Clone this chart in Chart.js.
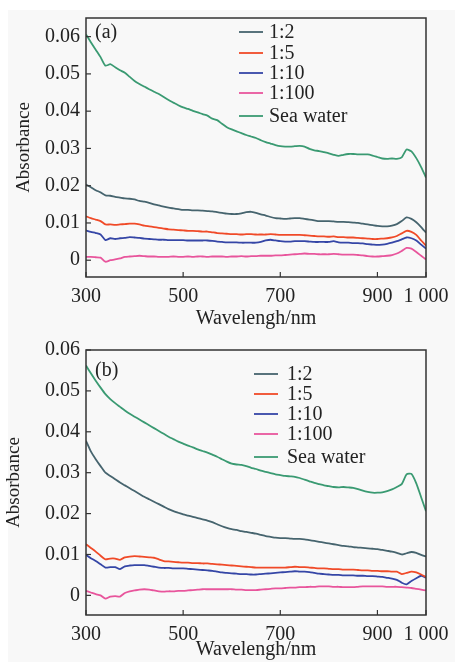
<!DOCTYPE html>
<html>
<head>
<meta charset="utf-8">
<script src="https://cdn.jsdelivr.net/npm/chart.js@4/dist/chart.umd.min.js"></script>
<style>
  html, body { margin: 0; padding: 0; background: #ffffff; }
  #wrap { position: relative; width: 458px; height: 662px; overflow: hidden; }
  #bg { position: absolute; left: 8px; top: 10px; width: 447px; height: 652px; background: #f8f8f8; }
  canvas { position: absolute; left: 0; }
  #c1 { top: 0; }
  #c2 { top: 331px; }
</style>
</head>
<body>
<div id="wrap">
  <div id="bg"></div>
  <canvas id="c1" width="458" height="331"></canvas>
  <canvas id="c2" width="458" height="331"></canvas>
</div>
<script>
// ---- Data ----
const wavelengths = [];
for (let w = 300; w <= 1000; w += 10) wavelengths.push(w);

const seriesNames = ['1:2', '1:5', '1:10', '1:100', 'Sea water'];
const xTickValues = [300, 500, 700, 900, 1000];
const xTickLabels = ['300', '500', '700', '900', '1 000'];
const yTickValues = [0, 0.01, 0.02, 0.03, 0.04, 0.05, 0.06];
const yTickLabels = ['0', '0.01', '0.02', '0.03', '0.04', '0.05', '0.06'];
const panelLabels = ['(a)', '(b)'];
const xTitle = 'Wavelengh/nm';
const yTitle = 'Absorbance';

// Panel (a)
const a_1_2 = [.0203,.0196,.0188,.0182,.0174,.0173,.0170,.0168,.0166,.0165,.0163,.0159,.0157,.0154,.0150,.0147,.0144,.0141,.0139,.0137,.0135,.0135,.0134,.0134,.0133,.0132,.0131,.0129,.0127,.0125,.0124,.0124,.0126,.0129,.0130,.0127,.0123,.0120,.0116,.0113,.0112,.0111,.0112,.0113,.0113,.0111,.0109,.0107,.0105,.0105,.0105,.0104,.0103,.0103,.0102,.0101,.0100,.0098,.0096,.0094,.0092,.0091,.0091,.0093,.0097,.0105,.0115,.0111,.0102,.0089,.0074];
const a_1_5 = [.0118,.0113,.0109,.0105,.0096,.0096,.0095,.0096,.0097,.0098,.0098,.0096,.0093,.0091,.0089,.0087,.0085,.0083,.0082,.0081,.0080,.0079,.0079,.0078,.0077,.0077,.0075,.0073,.0072,.0071,.0070,.0070,.0069,.0070,.0070,.0069,.0069,.0069,.0070,.0069,.0068,.0068,.0068,.0068,.0068,.0067,.0066,.0065,.0064,.0064,.0063,.0064,.0062,.0062,.0061,.0061,.0060,.0059,.0058,.0057,.0057,.0058,.0059,.0061,.0065,.0072,.0079,.0076,.0068,.0053,.0039];
const a_1_10 = [.0080,.0076,.0073,.0069,.0054,.0059,.0057,.0059,.0060,.0062,.0061,.0060,.0058,.0057,.0056,.0055,.0055,.0054,.0054,.0054,.0054,.0053,.0053,.0053,.0053,.0053,.0052,.0050,.0049,.0048,.0048,.0048,.0047,.0047,.0047,.0047,.0049,.0053,.0055,.0053,.0051,.0050,.0050,.0051,.0051,.0051,.0050,.0049,.0049,.0049,.0049,.0051,.0048,.0047,.0047,.0046,.0046,.0045,.0043,.0042,.0041,.0042,.0044,.0047,.0051,.0056,.0061,.0059,.0053,.0042,.0031];
const a_1_100 = [.0009,.0009,.0008,.0007,-.0004,.0000,.0002,.0005,.0009,.0010,.0011,.0012,.0011,.0010,.0010,.0009,.0009,.0009,.0010,.0009,.0009,.0010,.0009,.0010,.0010,.0009,.0010,.0010,.0010,.0009,.0010,.0010,.0011,.0010,.0011,.0011,.0012,.0012,.0012,.0013,.0013,.0014,.0015,.0016,.0017,.0018,.0017,.0017,.0016,.0016,.0016,.0017,.0016,.0015,.0015,.0015,.0014,.0013,.0011,.0010,.0010,.0011,.0012,.0014,.0018,.0025,.0033,.0031,.0022,.0012,.0002];
const a_sea = [.0606,.0585,.0565,.0545,.0522,.0526,.0518,.0510,.0503,.0492,.0481,.0473,.0466,.0459,.0452,.0446,.0438,.0430,.0423,.0416,.0410,.0406,.0401,.0397,.0392,.0388,.0380,.0376,.0366,.0357,.0351,.0346,.0341,.0336,.0332,.0328,.0322,.0317,.0313,.0309,.0306,.0305,.0305,.0306,.0307,.0305,.0299,.0295,.0293,.0290,.0287,.0283,.0280,.0283,.0285,.0285,.0284,.0284,.0284,.0281,.0277,.0273,.0272,.0273,.0272,.0276,.0297,.0292,.0274,.0250,.0222];

// Panel (b)
const b_1_2 = [.0378,.0352,.0333,.0316,.0300,.0292,.0284,.0276,.0269,.0262,.0255,.0248,.0241,.0235,.0229,.0223,.0217,.0211,.0206,.0202,.0198,.0195,.0192,.0189,.0186,.0183,.0179,.0174,.0169,.0165,.0162,.0160,.0157,.0155,.0153,.0151,.0148,.0145,.0143,.0141,.0140,.0140,.0139,.0138,.0138,.0137,.0135,.0133,.0131,.0129,.0127,.0125,.0123,.0121,.0120,.0118,.0117,.0116,.0115,.0114,.0113,.0111,.0109,.0107,.0104,.0100,.0103,.0106,.0104,.0099,.0095];
const b_1_5 = [.0125,.0116,.0107,.0097,.0088,.0090,.0090,.0087,.0093,.0095,.0096,.0095,.0094,.0093,.0092,.0088,.0084,.0083,.0082,.0081,.0080,.0080,.0079,.0079,.0078,.0078,.0077,.0076,.0075,.0074,.0073,.0072,.0071,.0070,.0069,.0068,.0068,.0068,.0068,.0068,.0068,.0068,.0069,.0070,.0069,.0069,.0068,.0067,.0066,.0066,.0065,.0064,.0064,.0063,.0063,.0063,.0062,.0061,.0061,.0060,.0060,.0059,.0059,.0058,.0058,.0052,.0055,.0058,.0056,.0051,.0045];
const b_1_10 = [.0099,.0091,.0084,.0076,.0068,.0069,.0069,.0064,.0071,.0073,.0074,.0074,.0074,.0072,.0070,.0068,.0067,.0067,.0066,.0066,.0066,.0065,.0064,.0063,.0062,.0061,.0060,.0058,.0056,.0055,.0054,.0053,.0052,.0052,.0051,.0051,.0052,.0053,.0054,.0055,.0056,.0057,.0058,.0059,.0058,.0058,.0057,.0055,.0053,.0052,.0051,.0050,.0050,.0049,.0049,.0049,.0048,.0048,.0047,.0047,.0046,.0045,.0043,.0041,.0038,.0031,.0027,.0035,.0042,.0048,.0043];
const b_1_100 = [.0011,.0007,.0003,.0000,-.0008,-.0003,-.0002,-.0003,.0006,.0010,.0012,.0014,.0015,.0014,.0012,.0010,.0009,.0010,.0010,.0011,.0011,.0012,.0013,.0014,.0015,.0015,.0015,.0015,.0015,.0015,.0015,.0014,.0014,.0013,.0013,.0013,.0014,.0015,.0016,.0017,.0017,.0018,.0019,.0019,.0020,.0020,.0021,.0021,.0022,.0022,.0022,.0021,.0021,.0020,.0020,.0020,.0021,.0022,.0022,.0022,.0022,.0022,.0021,.0021,.0021,.0020,.0019,.0018,.0016,.0014,.0012];
const b_sea = [.0562,.0543,.0525,.0508,.0492,.0480,.0470,.0461,.0452,.0444,.0437,.0430,.0423,.0416,.0409,.0402,.0395,.0388,.0382,.0376,.0371,.0366,.0362,.0357,.0353,.0349,.0344,.0339,.0333,.0327,.0322,.0320,.0319,.0316,.0312,.0309,.0305,.0302,.0299,.0296,.0294,.0292,.0291,.0290,.0287,.0283,.0279,.0275,.0272,.0269,.0267,.0265,.0264,.0265,.0264,.0263,.0260,.0256,.0253,.0251,.0251,.0252,.0255,.0259,.0265,.0272,.0296,.0297,.0274,.0240,.0206];

// ---- Styling ----
const colors = ['#46646e', '#f04a28', '#3546a6', '#e8559c', '#3a9a72'];
const FONT = "'Liberation Serif', 'Times New Roman', serif";
const TEXT = '#222222';

function makeDatasets(arrs) {
  return arrs.map((arr, i) => ({
    label: seriesNames[i],
    data: arr.map((v, k) => ({ x: wavelengths[k], y: v })),
    borderColor: colors[i],
    backgroundColor: colors[i],
    borderWidth: 1.8,
    pointRadius: 0,
    tension: 0.2,
    fill: false
  }));
}

const framePlugin = {
  id: 'frame',
  afterDraw(chart, args, opts) {
    const { ctx, chartArea: ca, scales } = chart;
    ctx.save();
    ctx.strokeStyle = '#333';
    ctx.lineWidth = 1.5;
    ctx.strokeRect(ca.left, ca.top, ca.right - ca.left, ca.bottom - ca.top);
    ctx.lineWidth = 1.2;
    // inward ticks
    scales.x.ticks.forEach(t => {
      const px = scales.x.getPixelForValue(t.value);
      ctx.beginPath(); ctx.moveTo(px, ca.bottom); ctx.lineTo(px, ca.bottom - 5); ctx.stroke();
    });
    scales.y.ticks.forEach(t => {
      const py = scales.y.getPixelForValue(t.value);
      ctx.beginPath(); ctx.moveTo(ca.left, py); ctx.lineTo(ca.left + 5, py); ctx.stroke();
    });
    // panel label
    ctx.fillStyle = TEXT;
    ctx.font = '20px ' + FONT;
    ctx.textBaseline = 'middle';
    ctx.textAlign = 'left';
    ctx.fillText(opts.panel, opts.panelX, opts.panelY);
    // legend
    ctx.font = '20px ' + FONT;
    chart.data.datasets.forEach((ds, i) => {
      const y = opts.legendY[i];
      ctx.strokeStyle = ds.borderColor;
      ctx.lineWidth = 1.8;
      ctx.beginPath(); ctx.moveTo(opts.legendX, y); ctx.lineTo(opts.legendX + 24, y); ctx.stroke();
      ctx.fillStyle = TEXT;
      ctx.fillText(ds.label, opts.legendTextX, y + 1);
    });
    ctx.restore();
  }
};

function makeChart(id, datasets, cfg) {
  return new Chart(document.getElementById(id), {
    type: 'line',
    data: { datasets },
    plugins: [framePlugin],
    options: {
      responsive: false,
      animation: false,
      layout: { padding: { left: 0, right: 32, top: cfg.top, bottom: 0 } },
      plugins: {
        legend: { display: false },
        tooltip: { enabled: false },
        frame: cfg.frame
      },
      scales: {
        x: {
          type: 'linear',
          min: 300, max: 1000,
          afterBuildTicks: s => { s.ticks = xTickValues.map(v => ({ value: v })); },
          afterFit: s => { s.height = cfg.xh; },
          grid: { display: false, drawTicks: false },
          border: { display: false },
          ticks: {
            color: TEXT, padding: cfg.xpad,
            font: { family: FONT, size: 20 },
            maxRotation: 0, autoSkip: false,
            callback: (v) => xTickLabels[xTickValues.indexOf(v)]
          },
          title: {
            display: true, text: xTitle, color: TEXT,
            font: { family: FONT, size: 20 },
            padding: { top: cfg.xtpad, bottom: 0 }
          }
        },
        y: {
          min: cfg.ymin, max: cfg.ymax,
          afterBuildTicks: s => { s.ticks = yTickValues.map(v => ({ value: v })); },
          afterFit: s => { s.width = 86; },
          grid: { display: false, drawTicks: false },
          border: { display: false },
          ticks: {
            color: TEXT, padding: 6,
            font: { family: FONT, size: 20 },
            callback: (v) => yTickLabels[yTickValues.indexOf(v)]
          },
          title: {
            display: true, text: yTitle, color: TEXT,
            font: { family: FONT, size: 19 },
            padding: { top: cfg.ytpad, bottom: 0 }
          }
        }
      }
    }
  });
}

makeChart('c1', makeDatasets([a_1_2, a_1_5, a_1_10, a_1_100, a_sea]), {
  top: 13, xh: 54, xpad: 8, xtpad: 2, ymin: -0.0045, ymax: 0.065, ytpad: 13,
  frame: { panel: panelLabels[0], panelX: 95, panelY: 33,
           legendX: 239, legendTextX: 269, legendY: [32, 53, 73, 93, 116] }
});
makeChart('c2', makeDatasets([b_1_2, b_1_5, b_1_10, b_1_100, b_sea]), {
  top: 19, xh: 47, xpad: 8, xtpad: 2, ymin: -0.0048, ymax: 0.06, ytpad: 3,
  frame: { panel: panelLabels[1], panelX: 95, panelY: 40,
           legendX: 254, legendTextX: 287, legendY: [43, 63, 83, 103, 126] }
});
</script>
</body>
</html>
